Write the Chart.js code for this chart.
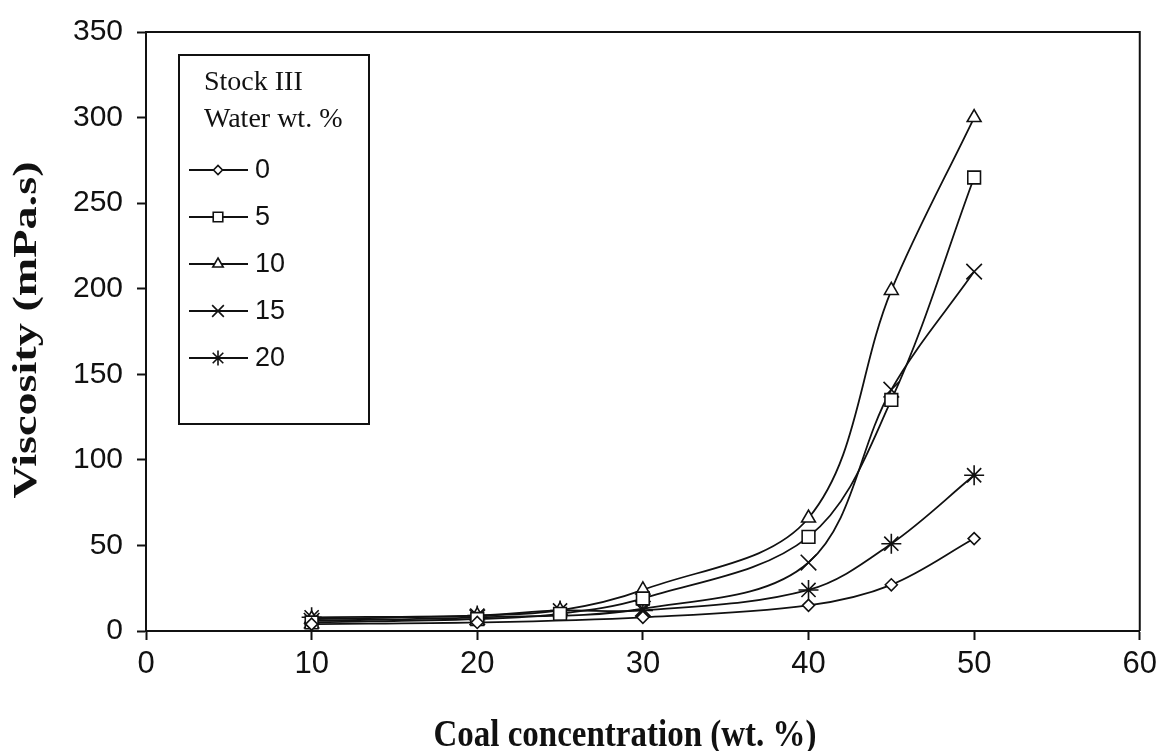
<!DOCTYPE html>
<html>
<head>
<meta charset="utf-8">
<script src="https://cdn.jsdelivr.net/npm/chart.js@4/dist/chart.umd.min.js"></script>
<style>
  html, body { margin: 0; padding: 0; background: #fff; }
  #wrap { width: 1163px; height: 751px; }
</style>
</head>
<body>
<div id="wrap"><canvas id="viscChart" width="1163" height="751"></canvas></div>
<script>
// coal concentration (wt. %) for each water series
const coalA = [10, 20, 30, 40, 45, 50];
const coalB = [10, 20, 25, 30, 40, 45, 50];

// viscosity (mPa.s) by water content
const water0  = [4, 5, 8, 15, 27, 54];          // coalA
const water5  = [5, 7, 10, 19, 55, 135, 265];   // coalB
const water10 = [7, 9, 12, 24, 66, 199, 300];   // coalB
const water15 = [6, 8, 13, 40, 141, 210];       // coalA
const water20 = [8, 9, 12, 12, 24, 51, 91];     // coalB

const seriesLabels = ['0', '5', '10', '15', '20'];
const xTicks = [0, 10, 20, 30, 40, 50, 60];
const yTicks = [0, 50, 100, 150, 200, 250, 300, 350];

const xTitle = 'Coal concentration (wt. %)';
const yTitle = 'Viscosity (mPa.s)';

const INK = '#111';

function pairs(xs, ys) {
  return ys.map((y, i) => ({ x: xs[i], y: y }));
}

function series(label, xs, ys, style, radius) {
  return {
    label: label,
    data: pairs(xs, ys),
    borderColor: INK,
    borderWidth: 1.8,
    tension: 0.35,
    pointStyle: style,
    pointRadius: radius,
    pointBorderWidth: 1.6,
    pointBorderColor: INK,
    pointBackgroundColor: '#fff',
    fill: false
  };
}

const datasets = [
  series(seriesLabels[0], coalA, water0, 'rectRot', 6),
  series(seriesLabels[1], coalB, water5, 'rect', 9),
  series(seriesLabels[2], coalB, water10, 'triangle', 8),
  series(seriesLabels[3], coalA, water15, 'crossRot', 11),
  series(seriesLabels[4], coalB, water20, 'star', 10)
];

// top and right edges of the plot box
const frame = {
  id: 'frame',
  afterDatasetsDraw(chart) {
    const { ctx, chartArea: a } = chart;
    ctx.save();
    ctx.strokeStyle = INK;
    ctx.lineWidth = 2;
    ctx.beginPath();
    ctx.moveTo(a.left, a.top);
    ctx.lineTo(a.right, a.top);
    ctx.lineTo(a.right, a.bottom);
    ctx.stroke();
    ctx.restore();
  }
};

// axis titles, drawn a little tall like the original figure
const axisTitles = {
  id: 'axisTitles',
  afterDraw(chart) {
    const { ctx } = chart;
    ctx.save();
    ctx.fillStyle = INK;
    ctx.textAlign = 'center';
    ctx.textBaseline = 'middle';
    ctx.font = 'bold 33px "Liberation Serif", serif';

    ctx.save();
    ctx.translate(625, 736);
    ctx.scale(1, 1.18);
    ctx.fillText(xTitle, 0, 0);
    ctx.restore();

    ctx.save();
    ctx.translate(27, 330);
    ctx.rotate(-Math.PI / 2);
    ctx.scale(1.4, 1);
    ctx.fillText(yTitle, 0, 0);
    ctx.restore();

    ctx.restore();
  }
};

// boxed key in the upper left of the plot
const keyBox = {
  id: 'keyBox',
  afterDraw(chart) {
    const { ctx, chartArea: a } = chart;
    const x0 = a.left + 33, y0 = a.top + 23;
    ctx.save();
    ctx.fillStyle = '#fff';
    ctx.fillRect(x0, y0, 190, 369);
    ctx.strokeStyle = INK;
    ctx.lineWidth = 2;
    ctx.strokeRect(x0, y0, 190, 369);

    ctx.fillStyle = INK;
    ctx.textBaseline = 'middle';
    ctx.textAlign = 'left';
    ctx.font = '28px "Liberation Serif", serif';
    ctx.fillText('Stock III', x0 + 25, y0 + 28);
    ctx.fillText('Water wt. %', x0 + 25, y0 + 65);

    ctx.font = '27px "Liberation Sans", Arial, sans-serif';
    chart.data.datasets.forEach((ds, i) => {
      const y = y0 + 115 + i * 47;
      ctx.strokeStyle = INK;
      ctx.lineWidth = 1.8;
      ctx.beginPath();
      ctx.moveTo(x0 + 10, y);
      ctx.lineTo(x0 + 69, y);
      ctx.stroke();
      if (Chart.helpers && Chart.helpers.drawPoint) {
        ctx.fillStyle = '#fff';
        ctx.strokeStyle = INK;
        ctx.lineWidth = 1.6;
        Chart.helpers.drawPoint(ctx, {
          pointStyle: ds.pointStyle,
          radius: ds.pointRadius * 0.75,
          rotation: 0,
          borderWidth: 1.6
        }, x0 + 39, y);
      }
      ctx.fillStyle = INK;
      ctx.fillText(ds.label, x0 + 76, y + 1);
    });
    ctx.restore();
  }
};

new Chart(document.getElementById('viscChart'), {
  type: 'line',
  data: { datasets: datasets },
  plugins: [frame, axisTitles, keyBox],
  options: {
    responsive: false,
    animation: false,
    layout: { padding: { top: 27, right: 23, left: 0, bottom: 0 } },
    plugins: {
      legend: { display: false },
      tooltip: { enabled: false }
    },
    scales: {
      x: {
        type: 'linear',
        min: 0,
        max: 60,
        afterBuildTicks: s => { s.ticks = xTicks.map(v => ({ value: v })); },
        afterFit: s => { s.height = 120; },
        border: { color: INK, width: 2 },
        grid: { drawOnChartArea: false, tickLength: 9, tickColor: INK, tickWidth: 2 },
        ticks: {
          color: INK,
          padding: 6,
          maxRotation: 0,
          font: { family: '"Liberation Sans", Arial, sans-serif', size: 31 }
        }
      },
      y: {
        min: 0,
        max: 350,
        afterBuildTicks: s => { s.ticks = yTicks.map(v => ({ value: v })); },
        afterFit: s => { s.width = 146; },
        border: { color: INK, width: 2 },
        grid: { drawOnChartArea: false, tickLength: 9, tickColor: INK, tickWidth: 2 },
        ticks: {
          color: INK,
          padding: 14,
          font: { family: '"Liberation Sans", Arial, sans-serif', size: 30 }
        }
      }
    }
  }
});
</script>
</body>
</html>
